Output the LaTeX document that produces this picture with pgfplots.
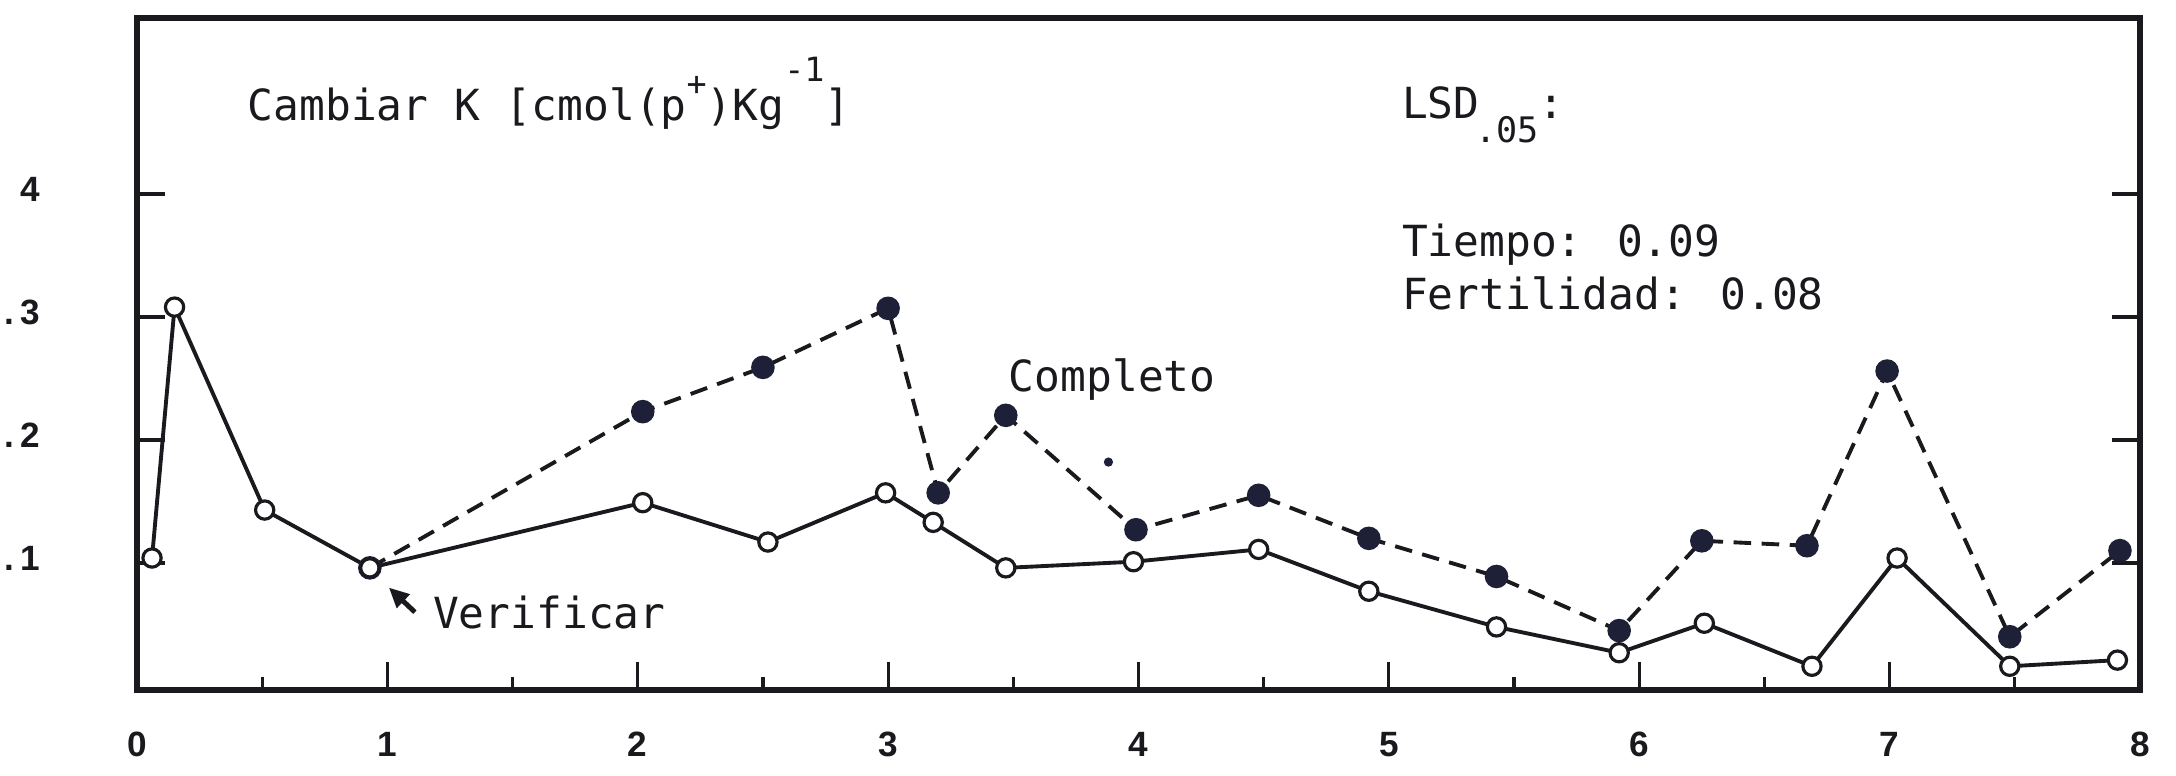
\documentclass[border=0pt]{standalone}
\usepackage{fontspec}
\setmainfont{DejaVu Sans Mono}
\newfontfamily\tickfont{Liberation Sans}
\usepackage{pgfplots}
\pgfplotsset{compat=1.18}
\usetikzlibrary{arrows.meta}

\definecolor{ink}{RGB}{25,25,30}
\definecolor{dotc}{RGB}{30,32,55}

\pgfplotstableread{
x y
0.06 0.104
0.15 0.308
0.51 0.143
0.93 0.096
2.02 0.149
2.52 0.117
2.99 0.157
3.18 0.133
3.47 0.096
3.98 0.101
4.48 0.111
4.92 0.077
5.43 0.048
5.92 0.027
6.26 0.051
6.69 0.016
7.03 0.104
7.48 0.016
7.91 0.021
}\verificar

\pgfplotstableread{
x y
0.93 0.096
2.02 0.223
2.50 0.259
3.00 0.307
3.20 0.157
3.47 0.220
3.99 0.127
4.48 0.155
4.92 0.120
5.43 0.089
5.92 0.045
6.25 0.118
6.67 0.114
6.99 0.256
7.48 0.040
7.92 0.110
}\completo

\begin{document}
\begin{tikzpicture}
\begin{axis}[
  at={(0,0)}, anchor=south west,
  scale only axis, width=20.03cm, height=6.72cm,
  xmin=0, xmax=8, ymin=-0.0033, ymax=0.543,
  axis line style={line width=1.6pt, draw=ink},
  xtick={0,1,2,3,4,5,6,7,8},
  xticklabels={0,1,2,3,4,5,6,7,8},
  minor xtick={0.5,1.5,2.5,3.5,4.5,5.5,6.5,7.5},
  ytick={0.1,0.2,0.3,0.4},
  yticklabels={.\,1,.\,2,.\,3,4},
  xtick pos=left, ytick pos=both,
  tick align=inside,
  major tick length=0.28cm, minor tick length=0.13cm,
  every tick/.append style={draw=ink, line width=0.9pt},
  tick label style={font=\tickfont\bfseries\fontsize{10}{12}\selectfont, text=ink},
  xticklabel style={yshift=-0.30cm},
  yticklabel style={xshift=-0.85cm, yshift=0.05cm},
  clip=false,
]
\addplot[ink, line width=1.1pt, dash pattern=on 5pt off 3pt,
  mark=*, mark size=2.8pt, mark options={solid, fill=dotc, draw=dotc}]
  table[x=x, y=y] {\completo};
\addplot[ink, line width=1.1pt,
  mark=*, mark size=2.6pt, mark options={solid, fill=white, draw=ink, line width=0.9pt}]
  table[x=x, y=y] {\verificar};
\addplot[only marks, mark=*, mark size=1.1pt, dotc] coordinates {(3.88,0.182)};

\node[anchor=base west, inner sep=0, text=ink, font=\fontsize{12.2}{14}\selectfont]
  at (axis cs:0.44,0.460)
  {Cambiar K [cmol(p\raisebox{0.58em}{\fontsize{9.5}{11}\selectfont +})Kg\raisebox{0.9em}{\fontsize{9.5}{11}\selectfont -1}]};
\node[anchor=base west, inner sep=0, text=ink, font=\fontsize{12.2}{14}\selectfont]
  at (axis cs:5.05,0.461)
  {LSD\kern-0.1em\raisebox{-0.55em}{\fontsize{10}{12}\selectfont .05}:};
\node[anchor=base west, inner sep=0, text=ink, font=\fontsize{12.2}{14}\selectfont]
  at (axis cs:5.05,0.349) {Tiempo: 0.09};
\node[anchor=base west, inner sep=0, text=ink, font=\fontsize{12.2}{14}\selectfont]
  at (axis cs:5.05,0.306) {Fertilidad: 0.08};
\node[anchor=base west, inner sep=0, text=ink, font=\fontsize{12.2}{14}\selectfont]
  at (axis cs:3.48,0.239) {Completo};
\node[anchor=base west, inner sep=0, text=ink, font=\fontsize{12.2}{14}\selectfont]
  at (axis cs:1.18,0.047) {Verificar};
\draw[-{Triangle[length=0.2cm,width=0.18cm]}, line width=1.4pt, ink]
  (axis cs:1.11,0.060) -- (axis cs:1.006,0.080);
\end{axis}
\pgfresetboundingbox
\path (-1.37cm,-0.85cm) rectangle (20.39cm,6.90cm);
\end{tikzpicture}
\end{document}
